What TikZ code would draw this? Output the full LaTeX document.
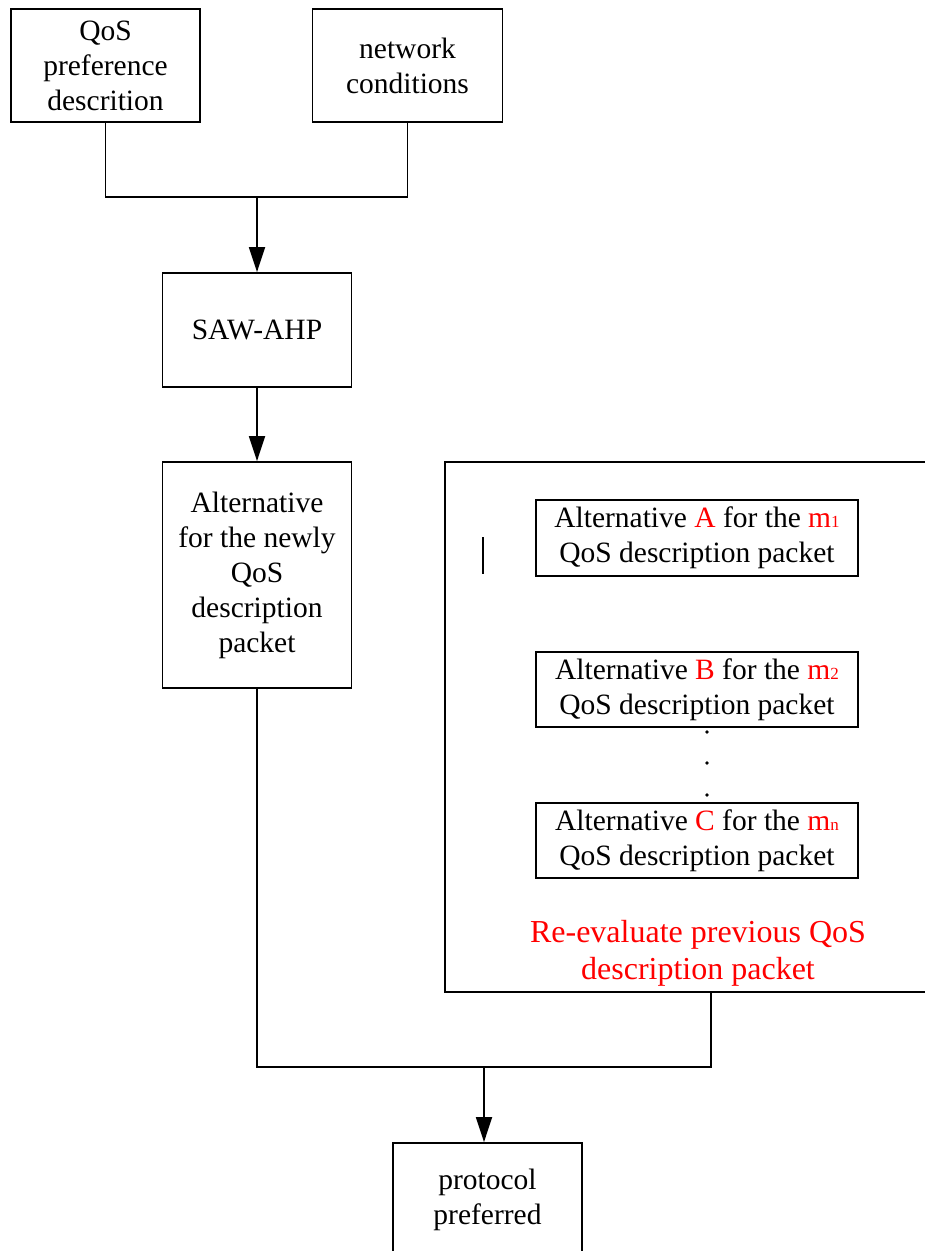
\documentclass[tikz,border=0pt]{standalone}
\usepackage{fontspec}
\setmainfont{Liberation Serif}
\usetikzlibrary{arrows.meta}
\newcommand{\sbs}[1]{{\fontsize{17}{17}\selectfont #1}}
\begin{document}
\begin{tikzpicture}[x=1pt,y=-1pt,
  line width=1.8pt,
  box/.style={draw, line width=1.8pt, inner sep=0pt, align=center,
    font=\fontsize{29.5}{35}\selectfont},
  arr/.style={-{Triangle[length=25pt,width=16pt]}},
  hl/.style={text=red}]
\useasboundingbox (0,0) rectangle (925,1251);

% top inputs
\node[box, minimum width=189, minimum height=113] (qos) at (105.5,65.5)
  {QoS\\preference\\descrition};
\node[box, minimum width=190, minimum height=113] (net) at (407.5,65.5)
  {network\\conditions};

% decision stage
\node[box, minimum width=189, minimum height=114] (saw) at (257,330) {SAW-AHP};
\node[box, minimum width=189, minimum height=226] (alt) at (257,575)
  {Alternative\\for the newly\\QoS\\description\\packet};

% previous packets (open frame running off the right side)
\coordinate (fr-tr) at (925,462);
\coordinate (fr-tl) at (445,462);
\coordinate (fr-bl) at (445,992);
\coordinate (fr-br) at (925,992);
\draw (fr-tr) -- (fr-tl) -- (fr-bl) -- (fr-br);
\coordinate (bar-t) at (483,537);
\coordinate (bar-b) at (483,574);
\draw (bar-t) -- (bar-b);

\node[box, minimum width=322, minimum height=76] (pa) at (697,538)
  {Alternative {\color{red}A} for the {\color{red}m\sbs{1}}\\QoS description packet};
\node[box, minimum width=322, minimum height=75] (pb) at (697,689.5)
  {Alternative {\color{red}B} for the {\color{red}m\sbs{2}}\\QoS description packet};
\node[box, minimum width=322, minimum height=75] (pc) at (697,840.5)
  {Alternative {\color{red}C} for the {\color{red}m\sbs{n}}\\QoS description packet};
\foreach \yy/\nm in {732/d1,763/d2,795/d3}
  \fill (707,\yy) circle (1.8) coordinate (\nm);
\node[align=center, text=red, inner sep=0pt, font=\fontsize{32}{37}\selectfont]
  (reval) at (698,953) {Re-evaluate previous QoS\\description packet};
\coordinate (fr-out) at (711,992);

% output
\node[box, minimum width=189, minimum height=113] (prot) at (487.5,1199.5)
  {protocol\\preferred};

% connectors
\coordinate (j1) at (saw.north |- 0,197);
\draw (qos.south) |- (j1) -| (net.south);
\draw[arr] (j1) -- (saw.north);
\draw[arr] (saw.south) -- (alt.north);
\coordinate (j2) at (484,1067);
\draw (alt.south) |- (j2);
\draw (fr-out) |- (j2);
\draw[arr] (j2) -- (j2 |- prot.north);
\end{tikzpicture}
\end{document}
